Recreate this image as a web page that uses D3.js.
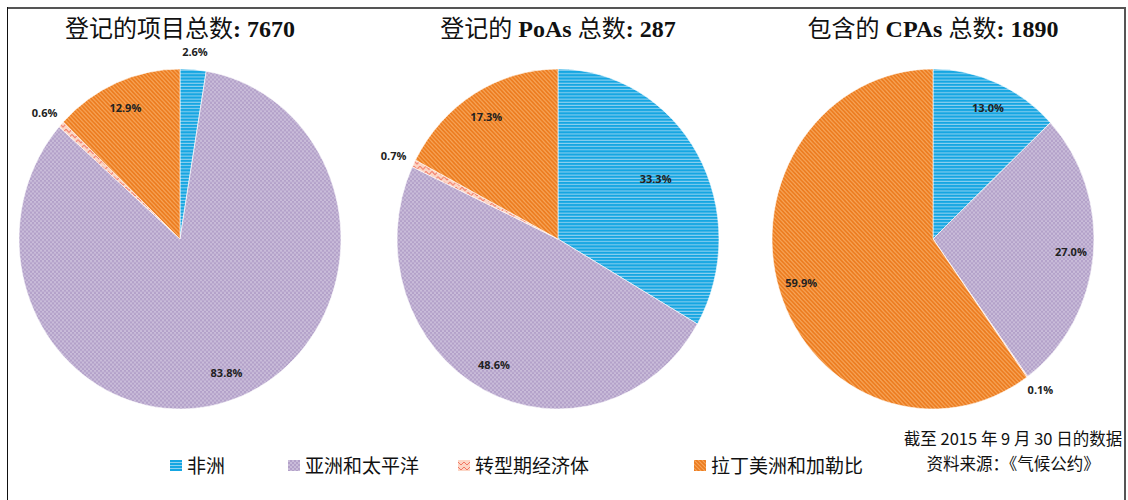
<!DOCTYPE html>
<html>
<head>
<meta charset="utf-8">
<script src="https://cdn.jsdelivr.net/npm/d3@7"></script>
<style>
  body { margin: 0; background: #fff; }
  svg { display: block; }
</style>
</head>
<body>
<div id="chart"></div>
<script>
// data
const regions = ["非洲", "亚洲和太平洋", "转型期经济体", "拉丁美洲和加勒比"];
const titles = ["登记的项目总数: 7670", "登记的 PoAs 总数: 287", "包含的 CPAs 总数: 1890"];
const projects = [2.6, 83.8, 0.6, 12.9];
const poas = [33.3, 48.6, 0.7, 17.3];
const cpas = [13.0, 27.0, 0.1, 59.9];
const noteLines = ["截至 2015 年 9 月 30 日的数据", "资料来源：《气候公约》"];

const width = 1128, height = 500;
const rx = 161, ry = 170;
const centers = [180, 558, 933];
const cy = 239;

const svg = d3.select("#chart").append("svg")
    .attr("width", width)
    .attr("height", height);

const defs = svg.append("defs");

// blue horizontal stripes
const pBlue = defs.append("pattern").attr("id", "p0")
    .attr("patternUnits", "userSpaceOnUse").attr("width", 4).attr("height", 3);
pBlue.append("rect").attr("width", 4).attr("height", 3).attr("fill", "#15a6e2");
pBlue.append("rect").attr("y", 2).attr("width", 4).attr("height", 1).attr("fill", "#8fd1f0");

// lavender checker
const pLav = defs.append("pattern").attr("id", "p1")
    .attr("patternUnits", "userSpaceOnUse").attr("width", 4).attr("height", 4);
pLav.append("rect").attr("width", 4).attr("height", 4).attr("fill", "#c9bcd9");
pLav.append("rect").attr("width", 2).attr("height", 2).attr("fill", "#b3a1c9");
pLav.append("rect").attr("x", 2).attr("y", 2).attr("width", 2).attr("height", 2).attr("fill", "#b3a1c9");

// pink zigzag
const pPink = defs.append("pattern").attr("id", "p2")
    .attr("patternUnits", "userSpaceOnUse").attr("width", 6).attr("height", 5);
pPink.append("rect").attr("width", 6).attr("height", 5).attr("fill", "#fcd6c6");
pPink.append("path").attr("d", "M0,1 L3,4 L6,1").attr("fill", "none")
    .attr("stroke", "#f27763").attr("stroke-width", 1);

// orange diagonal stripes
const pOr = defs.append("pattern").attr("id", "p3")
    .attr("patternUnits", "userSpaceOnUse").attr("width", 4).attr("height", 4);
pOr.append("rect").attr("width", 4).attr("height", 4).attr("fill", "#f7a559");
pOr.append("path").attr("d", "M-1,-1 L5,5 M-1,3 L1,5 M3,-1 L5,1")
    .attr("stroke", "#ec7b1e").attr("stroke-width", 1.6);

const fills = regions.map((d, i) => `url(#p${i})`);

// frame
svg.append("line").attr("x1", 7).attr("x2", 1126).attr("y1", 8).attr("y2", 8)
    .attr("stroke", "#555").attr("stroke-width", 2);
svg.append("line").attr("x1", 7.5).attr("x2", 7.5).attr("y1", 7).attr("y2", height)
    .attr("stroke", "#111").attr("stroke-width", 1);
svg.append("line").attr("x1", 1125).attr("x2", 1125).attr("y1", 7).attr("y2", height)
    .attr("stroke", "#555").attr("stroke-width", 2);

const pie = d3.pie().sort(null).value(d => d);
const arc = d3.arc().innerRadius(0).outerRadius(rx);
const isCjk = s => /[\u4e00-\u9fff]/.test(s);

[projects, poas, cpas].forEach((vals, k) => {
  const cx = centers[k];
  const arcs = pie(vals);

  // title: CJK in regular sans, latin parts in bold serif
  svg.append("text")
      .attr("x", cx)
      .attr("y", 37)
      .attr("text-anchor", "middle")
      .attr("font-size", 24)
      .attr("fill", "#111")
    .selectAll("tspan")
    .data(titles[k].split(/([\u4e00-\u9fff]+)/).filter(s => s))
    .join("tspan")
      .attr("font-family", s => isCjk(s) ? "'Noto Sans CJK SC', sans-serif" : "'Liberation Serif', serif")
      .attr("font-weight", s => isCjk(s) ? "normal" : "bold")
      .text(s => s);

  const g = svg.append("g")
      .attr("transform", `translate(${cx},${cy}) scale(1,${ry / rx})`);

  g.selectAll("path")
    .data(arcs)
    .join("path")
      .attr("d", arc)
      .attr("fill", (d, i) => fills[i])
      .attr("stroke", "#fff")
      .attr("stroke-width", 0.6);

  // labels: small slices outside, others inside
  svg.append("g")
    .selectAll("text")
    .data(arcs)
    .join("text")
      .attr("x", d => {
        const a = (d.startAngle + d.endAngle) / 2;
        const f = d.value < 5 ? 1.14 : (d.value > 30 && d.value < 40 ? 0.7 : 0.86);
        return cx + Math.sin(a) * rx * f;
      })
      .attr("y", d => {
        const a = (d.startAngle + d.endAngle) / 2;
        const f = d.value < 5 ? 1.1 : (d.value > 30 && d.value < 40 ? 0.7 : 0.84);
        return cy - Math.cos(a) * ry * f;
      })
      .attr("dy", "0.35em")
      .attr("text-anchor", "middle")
      .attr("font-family", "'Open Sans', 'Liberation Sans', sans-serif")
      .attr("font-weight", "bold")
      .attr("font-size", 11)
      .attr("fill", "#222")
      .text(d => d.value.toFixed(1) + "%");
});

// legend
const legendX = [170, 288, 458, 694];
const legend = svg.append("g")
  .selectAll("g")
  .data(regions)
  .join("g")
    .attr("transform", (d, i) => `translate(${legendX[i]},466)`);

legend.append("rect")
    .attr("x", 0).attr("y", -6)
    .attr("width", 12).attr("height", 11)
    .attr("fill", (d, i) => fills[i]);

legend.append("text")
    .attr("x", 17)
    .attr("dy", "0.35em")
    .attr("font-family", "'Noto Sans CJK SC', sans-serif")
    .attr("font-size", 19)
    .attr("fill", "#111")
    .text(d => d);

// source note
svg.append("g")
  .selectAll("text")
  .data(noteLines)
  .join("text")
    .attr("x", 1013)
    .attr("y", (d, i) => 445 + i * 25)
    .attr("text-anchor", "middle")
    .attr("font-family", "'Noto Sans CJK SC', sans-serif")
    .attr("font-size", 16.5)
    .attr("fill", "#111")
    .text(d => d);
</script>
</body>
</html>
